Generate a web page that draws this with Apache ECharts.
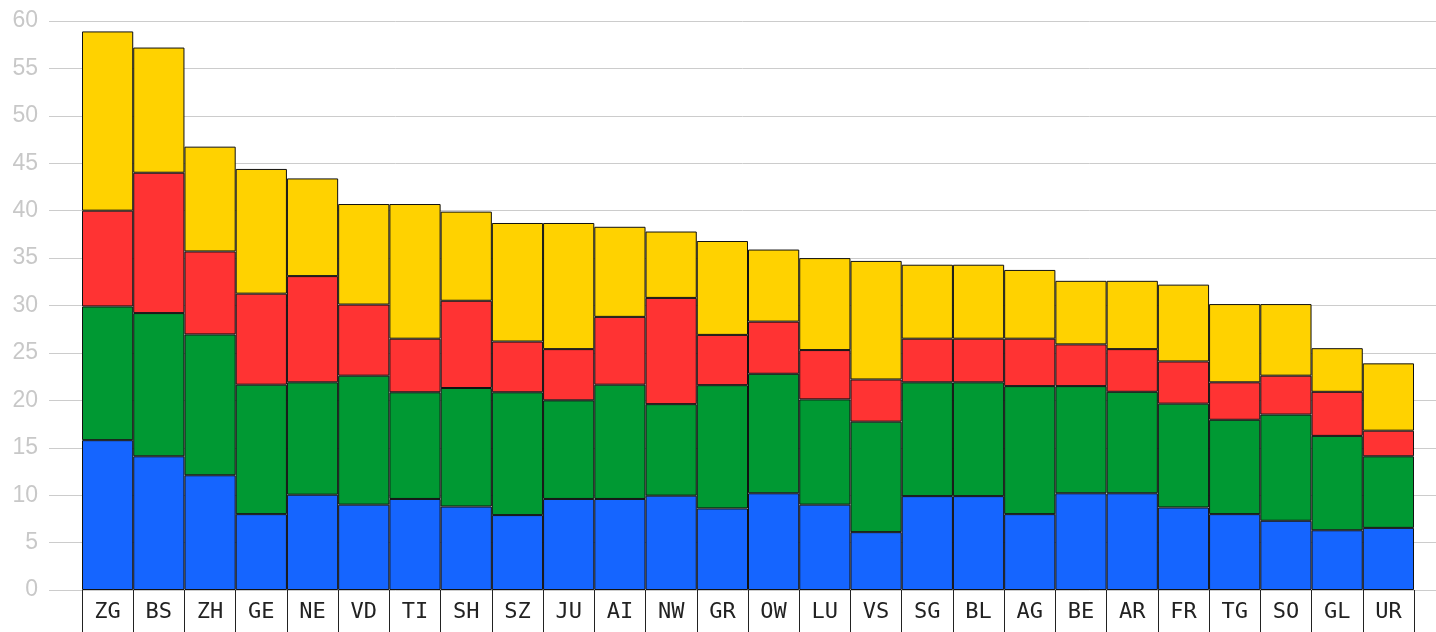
<!DOCTYPE html>
<html>
<head>
<meta charset="utf-8">
<script src="https://cdn.jsdelivr.net/npm/echarts@6/dist/echarts.min.js"></script>
<style>
  html, body { margin: 0; padding: 0; background: #fff; }
  #chartDiv { width: 1436px; height: 632px; }
</style>
</head>
<body>
<div id="chartDiv"></div>
<script>
// 数据
let cantons = ['ZG', 'BS', 'ZH', 'GE', 'NE', 'VD', 'TI', 'SH', 'SZ', 'JU', 'AI', 'NW', 'GR',
	'OW', 'LU', 'VS', 'SG', 'BL', 'AG', 'BE', 'AR', 'FR', 'TG', 'SO', 'GL', 'UR'];
let blueValues = [15.8, 14.1, 12.1, 8.0, 10.05, 9.0, 9.6, 8.8, 7.9, 9.6, 9.6, 9.95, 8.6,
	10.2, 9.0, 6.1, 9.9, 9.9, 8.0, 10.2, 10.2, 8.7, 8.0, 7.3, 6.3, 6.55];
let greenValues = [14.1, 15.1, 14.85, 13.65, 11.85, 13.6, 11.25, 12.5, 12.95, 10.4, 12.05, 9.65, 13.0,
	12.6, 11.1, 11.65, 12.0, 12.0, 13.5, 11.3, 10.7, 10.95, 9.95, 11.2, 9.95, 7.55];
let redValues = [10.1, 14.8, 8.75, 9.6, 11.2, 7.5, 5.65, 9.2, 5.35, 5.4, 7.15, 11.2, 5.3,
	5.5, 5.2, 4.45, 4.6, 4.6, 5.0, 4.4, 4.5, 4.45, 3.95, 4.1, 4.65, 2.7];
let yellowValues = [18.9, 13.2, 11.05, 13.15, 10.3, 10.6, 14.2, 9.4, 12.5, 13.3, 9.5, 7.0, 9.9,
	7.6, 9.7, 12.5, 7.8, 7.8, 7.25, 6.7, 7.2, 8.1, 8.25, 7.55, 4.6, 7.1];
let yTicks = {min: 0, max: 60, interval: 5};

let colors = {blue: '#1565ff', green: '#009933', red: '#ff3333', yellow: '#ffd200'};

// 初始化图表
let myChart = echarts.init(document.getElementById('chartDiv'));
window.onresize = myChart.resize;

function makeSerie(name, values, color) {
	return {
		name: name,
		type: 'bar',
		stack: 'total',
		xAxisIndex: 1,
		yAxisIndex: 1,
		barCategoryGap: 0,
		data: values,
		itemStyle: {
			color: color,
			borderColor: '#111111',
			borderWidth: 1
		}
	};
}

let option = {
	backgroundColor: '#ffffff',
	animation: false,
	grid: [
		// 网格线与刻度标签
		{left: 49, right: 0, top: 21, bottom: 42},
		// 柱状图
		{left: 82, right: 22, top: 21, bottom: 42}
	],
	xAxis: [
		{type: 'value', gridIndex: 0, show: false, min: 0, max: 1},
		{
			type: 'category',
			gridIndex: 1,
			data: cantons,
			axisLine: {show: false},
			axisTick: {
				show: true,
				interval: 0,
				length: 42,
				lineStyle: {color: '#222', width: 1}
			},
			axisLabel: {
				interval: 0,
				margin: 11,
				color: '#222',
				fontSize: 22,
				fontFamily: 'DejaVu Sans Mono'
			}
		}
	],
	yAxis: [
		{
			type: 'value',
			gridIndex: 0,
			min: yTicks.min,
			max: yTicks.max,
			interval: yTicks.interval,
			axisLine: {show: false},
			axisTick: {show: false},
			axisLabel: {
				margin: 11,
				color: '#c8c8c8',
				fontSize: 23,
				fontFamily: 'Liberation Sans, Arial'
			},
			splitLine: {lineStyle: {color: '#cccccc', width: 1}}
		},
		{
			type: 'value',
			gridIndex: 1,
			min: yTicks.min,
			max: yTicks.max,
			interval: yTicks.interval,
			show: false,
			splitLine: {show: false}
		}
	],
	series: [
		makeSerie('blue', blueValues, colors.blue),
		makeSerie('green', greenValues, colors.green),
		makeSerie('red', redValues, colors.red),
		makeSerie('yellow', yellowValues, colors.yellow)
	]
};
myChart.setOption(option);
</script>
</body>
</html>
